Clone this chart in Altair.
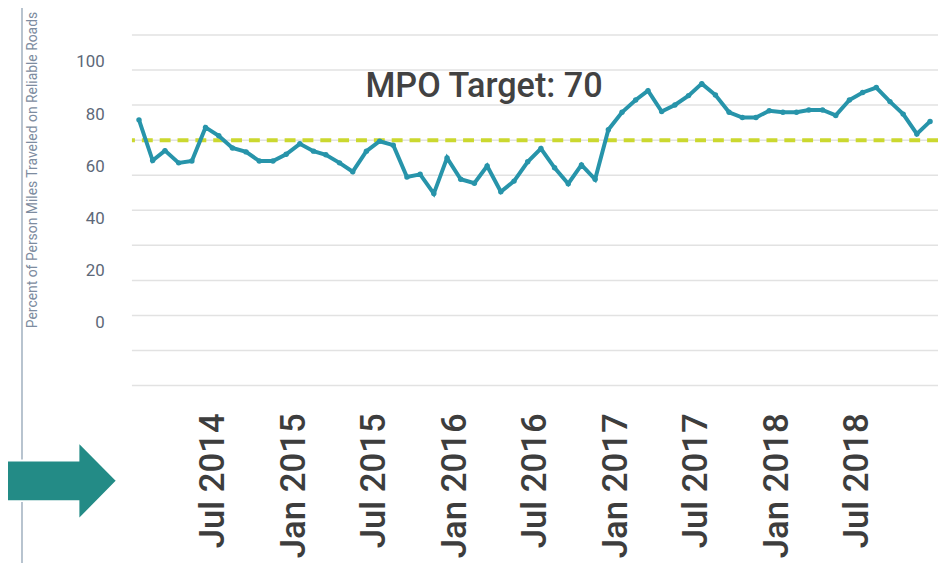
import altair as alt
import pandas as pd

# ---- data ----
months = [f"{y}-{m:02d}-15" for y in range(2014, 2019) for m in range(1, 13)]
pct_reliable = [
    77.8, 62.2, 66.0, 61.3, 62.0, 74.9, 71.7, 67.0, 65.5, 62.0,
    62.0, 64.6, 68.6, 65.8, 64.4, 61.3, 57.9, 65.8, 69.6, 68.1,
    55.9, 56.9, 49.5, 63.2, 55.0, 53.5, 60.1, 50.2, 54.3, 61.7,
    66.8, 59.4, 53.3, 60.5, 55.0, 74.0, 80.7, 85.4, 89.0, 81.0,
    83.5, 87.1, 91.7, 87.3, 80.7, 78.7, 78.7, 81.3, 80.7, 80.7,
    81.6, 81.6, 79.5, 85.4, 88.3, 90.2, 84.8, 80.0, 72.4, 77.2,
]
target_value = [70]
target_label = ["MPO Target: 70"]
target_label_pos = ["2016-03-08"]
target_label_y = [86.7]
y_tick_values = [0, 20, 40, 60, 80, 100]
grid_values = [-24.15, -10.7, 2.75, 16.2, 29.65, 43.1, 56.55, 70.0, 83.45, 96.9, 110.35]
x_tick_months = [(2014, 7), (2015, 1), (2015, 7), (2016, 1), (2016, 7),
                 (2017, 1), (2017, 7), (2018, 1), (2018, 7)]

df = pd.DataFrame({"date": months, "value": pct_reliable})
grid_df = pd.DataFrame({"g": grid_values})
target_df = pd.DataFrame({"t": target_value})
label_df = pd.DataFrame({"date": target_label_pos, "value": target_label_y, "label": target_label})

FONT = "Roboto"
x_scale = alt.Scale(domain=[alt.DateTime(year=2013, month=12, date=30),
                            alt.DateTime(year=2019, month=1, date=2)])
y_scale = alt.Scale(domain=[-27.4, 119.8], nice=False, zero=False)

x_axis = alt.Axis(
    values=[alt.DateTime(year=y, month=m, date=1) for y, m in x_tick_months],
    format="%b %Y", labelAngle=270, labelFontSize=35, labelFont=FONT,
    labelFontWeight=500, labelColor="#3d3d3d", labelPadding=19,
    labelOverlap=False, labelFlush=False, ticks=False, domain=False,
    grid=False, title=None,
)
y_axis = alt.Axis(
    values=y_tick_values, labelFontSize=17, labelFont=FONT, labelColor="#5d6878",
    labelPadding=28, ticks=False, domain=False, grid=False,
    title="Percent of Person Miles Traveled on Reliable Roads",
    titleFont=FONT, titleFontSize=14, titleFontWeight="normal", titleColor="#7d8ca0",
    titleAngle=270, titleAlign="center", titleBaseline="middle",
    titleX=-100, titleY=160.5,
)

grid = alt.Chart(grid_df).mark_rule(color="#e2e2e2", strokeWidth=1.5).encode(
    y=alt.Y("g:Q", scale=y_scale, axis=y_axis)
)
target = alt.Chart(target_df).mark_rule(
    color="#cbd82f", strokeWidth=4, strokeDash=[11, 7]
).encode(y=alt.Y("t:Q", scale=y_scale))

line = alt.Chart(df).mark_line(
    color="#2794aa", strokeWidth=4,
    point=alt.OverlayMarkDef(color="#2794aa", size=30, filled=True),
).encode(
    x=alt.X("date:T", scale=x_scale, axis=x_axis),
    y=alt.Y("value:Q", scale=y_scale),
)

label = alt.Chart(label_df).mark_text(
    font=FONT, fontSize=34.5, fontWeight=500, color="#424242",
    align="center", baseline="alphabetic",
).encode(
    x=alt.X("date:T", scale=x_scale),
    y=alt.Y("value:Q", scale=y_scale),
    text="label:N",
)

# slide decorations (outside the plot area)
side_line = alt.Chart(grid_df).mark_rule(color="#b8c3cf", strokeWidth=1.5).encode(
    x=alt.value(-111), y=alt.value(-8), y2=alt.value(561)
)
arrow = alt.Chart(target_df).mark_point(
    shape="M -1 -0.347 L 0.339 -0.347 L 0.339 -0.669 L 1 0 L 0.339 0.669 L 0.339 0.347 L -1 0.347 Z",
    size=13924, filled=True, fill="#238b86", stroke="white", strokeWidth=2, opacity=1,
).encode(x=alt.value(-74), y=alt.value(474.5))

chart = alt.layer(grid, target, line, label, side_line, arrow).properties(
    width=813, height=387,
    autosize=alt.AutoSizeParams(type="none"),
    padding={"left": 125, "top": 0, "right": 0, "bottom": 168},
).configure_view(stroke=None)

chart.save("out.html", embed_options={"renderer": "svg", "actions": False})
